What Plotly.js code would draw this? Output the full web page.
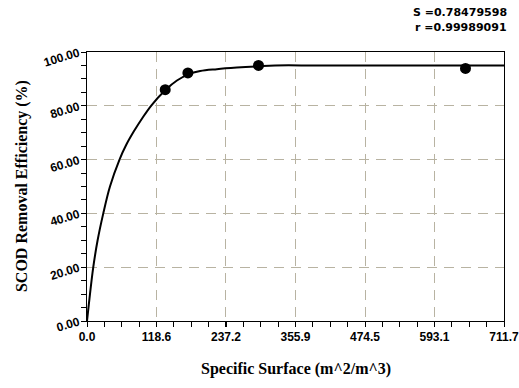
<!DOCTYPE html>
<html>
<head>
<meta charset="utf-8">
<script src="https://cdn.plot.ly/plotly-3.0.1.min.js"></script>
<style>html,body{margin:0;padding:0;background:#fff;}#chart{width:519px;height:388px;}</style>
</head>
<body>
<div id="chart"></div>
<script>
// Measured data points
const pointX = [133.5, 172.2, 292.7, 646.0];
const pointY = [86.0, 92.2, 95.0, 93.9];

// Fitted curve
const curveX = [0, 3.0, 10.7, 18.1, 27.8, 39.2, 55.5, 67.0, 80.0, 94.0, 110.0, 133.5, 153.5, 172.2, 193.2, 221.7, 255.8, 292.7, 321.0, 400.0, 711.7];
const curveY = [0, 6.0, 20.0, 30.0, 40.0, 50.0, 60.0, 65.5, 70.5, 75.3, 80.2, 85.8, 89.4, 91.6, 92.9, 93.6, 94.2, 94.7, 95.0, 95.0, 95.0];

// Tick labels
const xTicks = [0.0, 118.6, 237.2, 355.9, 474.5, 593.1, 711.7];
const xTickText = ["0.0", "118.6", "237.2", "355.9", "474.5", "593.1", "711.7"];
const yTicks = [0, 20, 40, 60, 80, 100];
const yTickText = ["0.00", "20.00", "40.00", "60.00", "80.00", "100.00"];

const statsText = ["S =0.78479598", "r =0.99989091"];

const gridColor = "#b8b3a2";
const tickFont = {family: "Liberation Sans, Arial, sans-serif", size: 12, color: "#000", weight: "bold"};

const traces = [
  {
    x: curveX, y: curveY, type: "scatter", mode: "lines",
    line: {color: "#000", width: 2, shape: "spline", smoothing: 1},
    hoverinfo: "skip", showlegend: false
  },
  {
    x: pointX, y: pointY, type: "scatter", mode: "markers",
    marker: {color: "#000", size: 11, symbol: "circle"},
    showlegend: false
  }
];

const layout = {
  width: 519, height: 388,
  margin: {l: 87, r: 15, t: 52, b: 67},
  paper_bgcolor: "#fff", plot_bgcolor: "#fff",
  showlegend: false,
  xaxis: {
    range: [0, 711.7], tickvals: xTicks, ticktext: xTickText,
    showgrid: true, gridcolor: gridColor, griddash: "10px,7px", gridwidth: 1,
    zeroline: false, showline: true, linecolor: "#000", linewidth: 1, mirror: true,
    ticks: "outside", ticklen: 5, tickcolor: "#000", tickwidth: 1,
    minor: {dtick: 29.6542, tick0: 0, ticks: "outside", ticklen: 5, tickcolor: "#000", showgrid: false},
    tickfont: tickFont, ticklabeloverflow: "allow",
    fixedrange: true
  },
  yaxis: {
    range: [0, 100], tickvals: yTicks, ticktext: yTickText,
    showgrid: true, gridcolor: gridColor, griddash: "10px,7px", gridwidth: 1,
    zeroline: false, showline: true, linecolor: "#000", linewidth: 1, mirror: true,
    ticks: "outside", ticklen: 5, tickcolor: "#000", tickwidth: 1,
    minor: {dtick: 5, tick0: 0, ticks: "outside", ticklen: 5, tickcolor: "#000", showgrid: false},
    tickangle: -17,
    tickfont: tickFont, ticklabeloverflow: "allow",
    fixedrange: true
  },
  annotations: [
    {text: "<b>Specific Surface (m^2/m^3)</b>", xref: "paper", yref: "paper",
     x: 0.5, y: -0.18, xanchor: "center", yanchor: "middle", showarrow: false,
     font: {family: "Liberation Serif, Times New Roman, serif", size: 16, color: "#000"}},
    {text: "<b>SCOD Removal Efficiency (%)</b>", xref: "paper", yref: "paper",
     x: -0.157, y: 0.5, xanchor: "center", yanchor: "middle", textangle: -90, showarrow: false,
     font: {family: "Liberation Serif, Times New Roman, serif", size: 16, color: "#000"}},
    {text: "<b>" + statsText[0] + "</b>", xref: "paper", yref: "paper",
     x: 1.013, y: 1.145, xanchor: "right", yanchor: "middle", showarrow: false,
     font: {family: "DejaVu Sans, Verdana, sans-serif", size: 11, color: "#000"}},
    {text: "<b>" + statsText[1] + "</b>", xref: "paper", yref: "paper",
     x: 1.013, y: 1.092, xanchor: "right", yanchor: "middle", showarrow: false,
     font: {family: "DejaVu Sans, Verdana, sans-serif", size: 11, color: "#000"}}
  ]
};

Plotly.newPlot("chart", traces, layout, {displayModeBar: false, staticPlot: true});
</script>
</body>
</html>
